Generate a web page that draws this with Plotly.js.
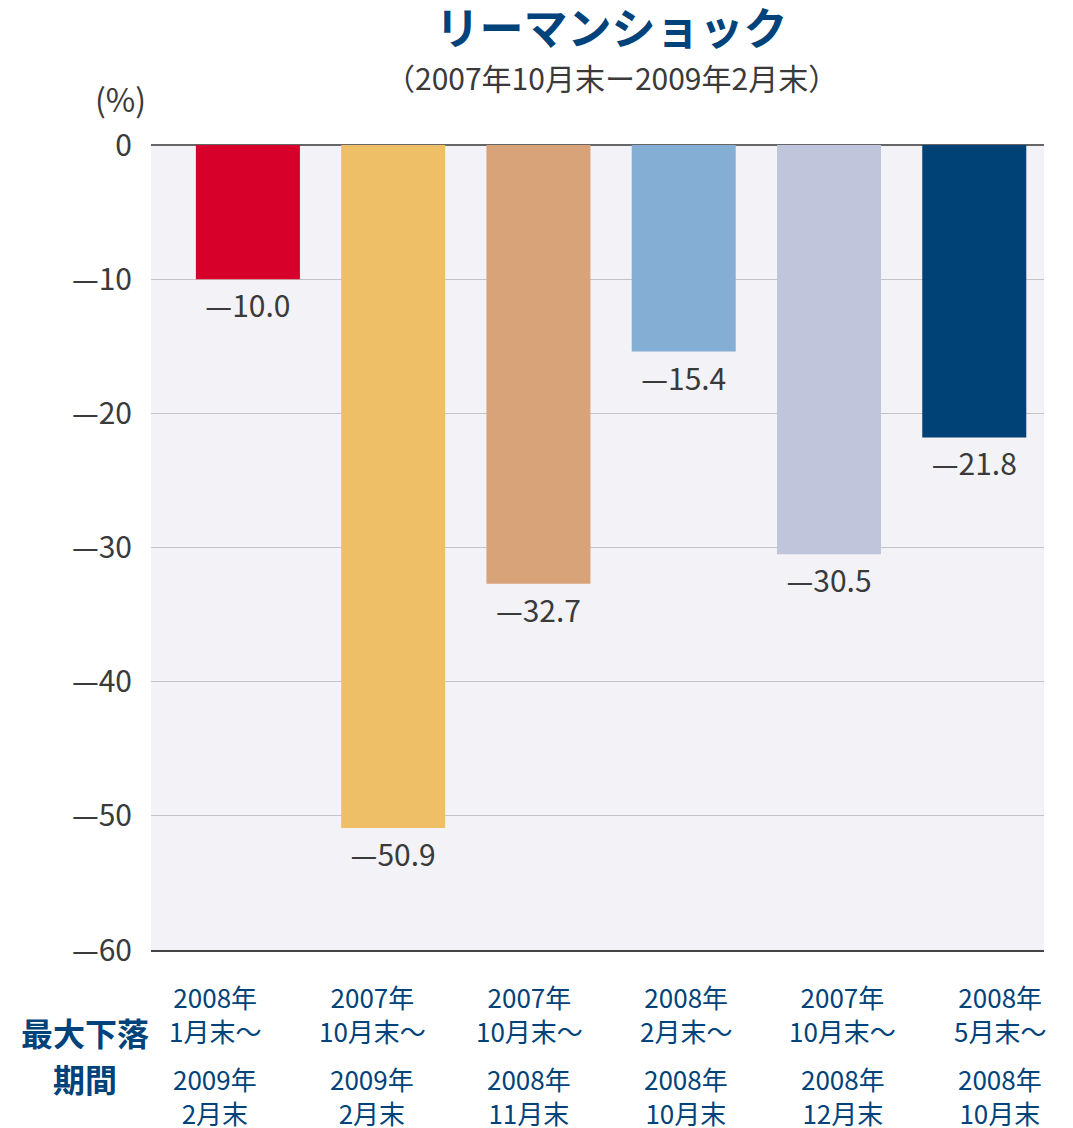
<!DOCTYPE html>
<html>
<head>
<meta charset="utf-8">
<script src="https://cdn.plot.ly/plotly-3.0.1.min.js"></script>
<style>
  html, body { margin: 0; padding: 0; background: #fff; }
  #chart { width: 1073px; height: 1128px; }
</style>
</head>
<body>
<div id="chart"></div>
<script>
// values
const categories = ["A", "B", "C", "D", "E", "F"];
const drawdown = [-10.0, -50.9, -32.7, -15.4, -30.5, -21.8];
const barColors = ["#d7002a", "#eebf66", "#d8a378", "#85aed4", "#c0c5dc", "#004276"];
const periodStart = ["2008年<br>1月末〜", "2007年<br>10月末〜", "2007年<br>10月末〜", "2008年<br>2月末〜", "2007年<br>10月末〜", "2008年<br>5月末〜"];
const periodEnd = ["2009年<br>2月末", "2009年<br>2月末", "2008年<br>11月末", "2008年<br>10月末", "2008年<br>12月末", "2008年<br>10月末"];
const yTicks = [0, -10, -20, -30, -40, -50, -60];

const FONT = "'Noto Sans CJK JP', 'Noto Sans', sans-serif";
const NAVY = "#00427a";
const GREY = "#3a3a3a";
const DASH = "\u2014";

const fmt = v => (v < 0 ? DASH : "") + Math.abs(v).toFixed(1);

const trace = {
  type: "bar",
  x: categories,
  y: drawdown,
  marker: { color: barColors, line: { width: 0 } },
  text: drawdown.map(fmt),
  textposition: "outside",
  textfont: { family: FONT, size: 30, color: GREY },
  cliponaxis: false,
  hoverinfo: "skip",
};

// period labels sit on a slightly wider spacing than the bars
let annotations = [];
categories.forEach((c, i) => {
  const px = 0.072 + i * 0.1757;
  annotations.push({
    xref: "paper", yref: "paper", x: px, y: -0.079,
    text: periodStart[i], showarrow: false,
    font: { family: FONT, size: 26, color: NAVY },
    xanchor: "center", yanchor: "middle",
  });
  annotations.push({
    xref: "paper", yref: "paper", x: px, y: -0.181,
    text: periodEnd[i], showarrow: false,
    font: { family: FONT, size: 26, color: NAVY },
    xanchor: "center", yanchor: "middle",
  });
});

annotations.push(
  {
    xref: "paper", yref: "paper", x: -0.074, y: -0.102,
    text: "<b>最大下落</b>", showarrow: false,
    font: { family: FONT, size: 32, color: NAVY },
    xanchor: "center", yanchor: "middle",
  },
  {
    xref: "paper", yref: "paper", x: -0.074, y: -0.159,
    text: "<b>期間</b>", showarrow: false,
    font: { family: FONT, size: 32, color: NAVY },
    xanchor: "center", yanchor: "middle",
  },
  {
    xref: "paper", yref: "paper", x: -0.034, y: 1.058,
    text: "(%)", showarrow: false,
    font: { family: FONT, size: 32, color: GREY },
    xanchor: "center", yanchor: "middle",
  },
  {
    xref: "paper", yref: "paper", x: 0.516, y: 1.085,
    text: "（2007年10月末ー2009年2月末）", showarrow: false,
    font: { family: FONT, size: 30, color: GREY },
    xanchor: "center", yanchor: "middle",
  }
);

const layout = {
  width: 1073,
  height: 1128,
  margin: { l: 151, r: 29, t: 145, b: 178 },
  paper_bgcolor: "#ffffff",
  plot_bgcolor: "#f2f2f7",
  showlegend: false,
  bargap: 0.284,
  title: {
    text: "<b>リーマンショック</b>",
    font: { family: FONT, size: 44, color: NAVY },
    x: 0.57, xanchor: "center",
    y: 0.974, yanchor: "middle",
  },
  xaxis: {
    range: [-0.667, 5.48],
    showticklabels: false,
    showgrid: false,
    showline: true,
    linecolor: "#444444",
    linewidth: 2,
    ticks: "",
    fixedrange: true,
  },
  yaxis: {
    range: [-60, 0],
    tickvals: yTicks,
    ticktext: yTicks.map(v => (v < 0 ? DASH : "") + Math.abs(v)),
    tickfont: { family: FONT, size: 30, color: GREY },
    ticks: "",
    ticklabelstandoff: 18,
    showgrid: true,
    gridcolor: "#c4c4c8",
    gridwidth: 1,
    zeroline: true,
    zerolinecolor: "#666666",
    zerolinewidth: 2,
    showline: false,
    fixedrange: true,
  },
  annotations: annotations,
};

Plotly.newPlot("chart", [trace], layout, { displayModeBar: false, staticPlot: true });
</script>
</body>
</html>
